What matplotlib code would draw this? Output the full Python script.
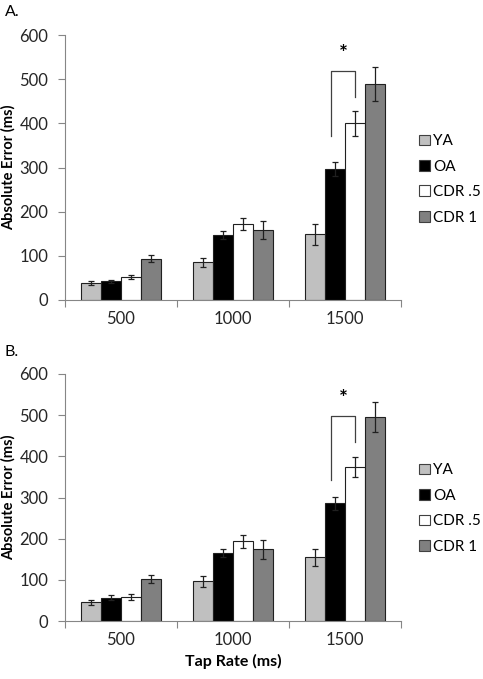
import numpy as np
import matplotlib
matplotlib.use("Agg")
from matplotlib import pyplot as plt
from matplotlib.patches import Patch

plt.rcParams['font.family'] = ['Lato', 'DejaVu Sans']

rates = ['500', '1000', '1500']
groups = ['YA', 'OA', 'CDR .5', 'CDR 1']
colors = ['#c0c0c0', '#000000', '#ffffff', '#808080']

# panel A
a_vals = [[38, 85, 149], [42, 147, 297], [52, 172, 400], [93, 158, 489]]
a_err = [[5, 11, 24], [3, 9, 16], [5, 14, 28], [8, 21, 38]]
a_bracket = [372, 519, 460]  # left foot, top, right foot
a_star = 534

# panel B
b_vals = [[45, 96, 155], [56, 165, 286], [59, 194, 374], [102, 174, 495]]
b_err = [[6, 13, 21], [6, 10, 16], [7, 16, 24], [9, 23, 37]]
b_bracket = [343, 498, 435]
b_star = 514

W, H = 483, 679
fig = plt.figure(figsize=(W/100, H/100), dpi=100)

def panel(rect, vals, errs, bracket, star, tag, ty, xlabel):
	ax = fig.add_axes(rect)
	x = np.arange(len(rates))
	w = 0.18
	for i, g in enumerate(groups):
		ax.bar(x + (i-1.5)*w, vals[i], w, color=colors[i], edgecolor='#202020', linewidth=0.8,
			yerr=errs[i], capsize=2.5, error_kw=dict(elinewidth=0.9, capthick=0.9, ecolor='#202020'),
			label=g, zorder=2)
	ax.set_xlim(-0.5, 2.5)
	ax.set_ylim(0, 600)
	ax.set_yticks(range(0, 601, 100))
	ax.set_xticks([-0.5, 0.5, 1.5, 2.5])
	ax.set_xticklabels([])
	ax.set_xticks(x, minor=True)
	ax.set_xticklabels(rates, minor=True)
	ax.tick_params(axis='x', which='minor', length=0, pad=8, labelsize=12, colors='#262626')
	ax.tick_params(axis='x', which='major', length=5, color='#868686')
	ax.tick_params(axis='y', length=5, color='#868686', labelsize=12, labelcolor='#262626', pad=7)
	for s in ['top', 'right']:
		ax.spines[s].set_visible(False)
	for s in ['left', 'bottom']:
		ax.spines[s].set_color('#868686')
	ax.set_ylabel('Absolute Error (ms)', fontsize=10.5, fontweight='bold', labelpad=3)
	if xlabel:
		ax.set_xlabel(xlabel, fontsize=11.5, fontweight='bold', labelpad=4)
	# significance bracket between OA and CDR .5 at 1500
	xl, xr = 1.875, 2.09
	ax.plot([xl, xl, xr, xr], [bracket[0], bracket[1], bracket[1], bracket[2]], color='#404040', lw=0.9, zorder=3)
	ax.text((xl+xr)/2, star, '*', ha='center', va='bottom', fontsize=15, fontweight='bold')
	handles = [Patch(facecolor=c, edgecolor='#404040', linewidth=0.8) for c in colors]
	ax.legend(handles, groups, loc='center left', bbox_to_anchor=(1.055, 0.455), frameon=False,
		fontsize=11, handlelength=0.7, handleheight=0.7, handletextpad=0.2, labelspacing=0.75,
		borderpad=0, borderaxespad=0)
	fig.text(5/W, 1 - ty/H, tag, fontsize=11.5, va='center', ha='left')
	return ax

panel([65/W, 1-300/H, 336/W, 265/H], a_vals, a_err, a_bracket, a_star, 'A.', 12, None)
panel([65/W, 1-621/H, 336/W, 247/H], b_vals, b_err, b_bracket, b_star, 'B.', 352, 'Tap Rate (ms)')

fig.savefig('out.png', dpi=100)
